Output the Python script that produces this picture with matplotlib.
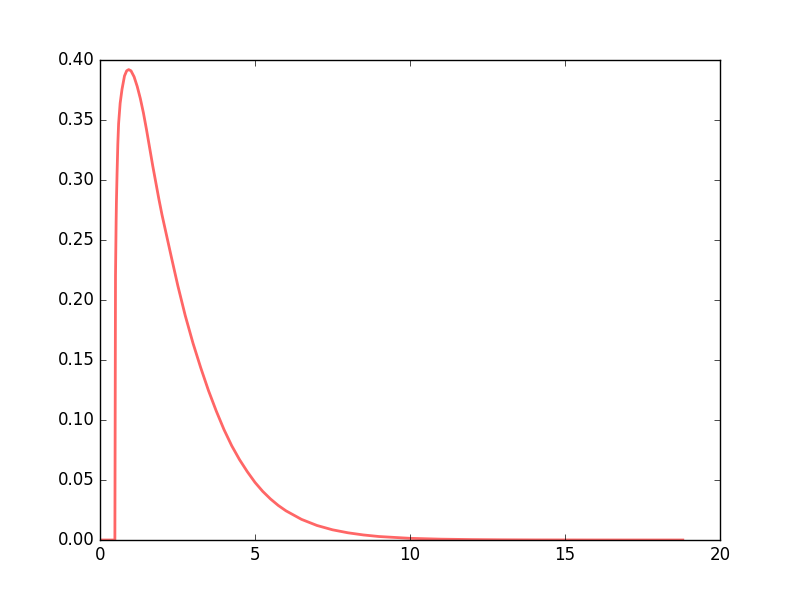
import matplotlib
matplotlib.use("Agg")
import matplotlib.pyplot as plt

plt.style.use("classic")

x_vals = [0.0, 0.48, 0.50, 0.52, 0.53, 0.55, 0.575, 0.60, 0.65, 0.71, 0.79, 0.86,
          0.925, 1.00, 1.10, 1.20, 1.30, 1.40, 1.50, 1.60, 1.70, 1.80, 1.90, 2.00,
          2.12, 2.30, 2.51, 2.75, 3.00, 3.25, 3.50, 3.75, 4.00, 4.25, 4.50, 4.75,
          5.00, 5.25, 5.50, 5.75, 6.00, 6.50, 7.00, 7.50, 8.00, 8.50, 9.00, 10.0,
          11.0, 12.0, 13.0, 14.0, 16.0, 18.8]
y_vals = [0.0, 0.0, 0.22, 0.265, 0.282, 0.305, 0.33, 0.347, 0.364, 0.3756, 0.3867, 0.391,
          0.392, 0.391, 0.386, 0.378, 0.368, 0.356, 0.342, 0.327, 0.312, 0.298, 0.284, 0.271,
          0.257, 0.236, 0.212, 0.187, 0.164, 0.1435, 0.1245, 0.1075, 0.092, 0.0785, 0.067, 0.057,
          0.048, 0.0405, 0.0342, 0.0288, 0.0243, 0.0172, 0.0121, 0.0085, 0.0060, 0.0042, 0.0029, 0.0014,
          0.0007, 0.00035, 0.00017, 0.00008, 0.00002, 0.0]

x_ticks = [0, 5, 10, 15, 20]
y_ticks = [0.00, 0.05, 0.10, 0.15, 0.20, 0.25, 0.30, 0.35, 0.40]

fig = plt.figure(figsize=(8, 6), dpi=100, facecolor="white")
ax = fig.add_subplot(111)
ax.plot(x_vals, y_vals, "r-", lw=2, alpha=0.6)
ax.set_xlim(0, 20)
ax.set_ylim(0, 0.40)
ax.set_xticks(x_ticks)
ax.set_yticks(y_ticks)
ax.set_yticklabels([f"{v:.2f}" for v in y_ticks])
fig.savefig("out.png", dpi=100, facecolor="white")
